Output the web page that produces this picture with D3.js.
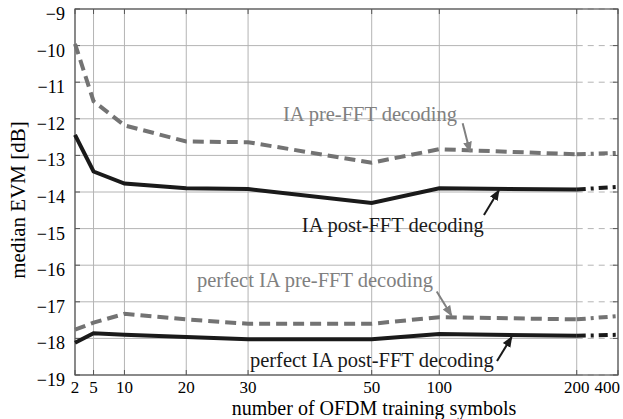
<!DOCTYPE html>
<html>
<head>
<meta charset="utf-8">
<script src="https://d3js.org/d3.v7.min.js"></script>
<style>
  body { margin: 0; background: #fff; }
  text { font-family: "Liberation Serif", "DejaVu Serif", serif; }
</style>
</head>
<body>
<script>
"use strict";

// training symbol counts (x) and median EVM values in dB
var symbols = [2, 5, 10, 20, 30, 50, 100, 200, 400];
var iaPre = [-9.95, -11.52, -12.18, -12.62, -12.64, -13.2, -12.83, -12.97, -12.93];
var iaPost = [-12.44, -13.44, -13.77, -13.9, -13.92, -14.3, -13.9, -13.93, -13.86];
var perfectPre = [-17.76, -17.57, -17.33, -17.48, -17.6, -17.6, -17.42, -17.48, -17.39];
var perfectPost = [-18.12, -17.86, -17.9, -17.96, -18.02, -18.02, -17.88, -17.93, -17.9];

var xTicks = [2, 5, 10, 20, 30, 50, 100, 200, 400];
var yTicks = [-9, -10, -11, -12, -13, -14, -15, -16, -17, -18, -19];

var margin = {top: 9, right: 5, bottom: 44, left: 75},
    width = 623 - margin.left - margin.right,
    height = 419 - margin.top - margin.bottom;

var svg = d3.select("body").append("svg")
    .attr("width", 623)
    .attr("height", 419);
var g = svg.append("g")
    .attr("transform", "translate(" + margin.left + "," + margin.top + ")");

// piecewise scale: linear up to 50, then compressed segments
var x = d3.scaleLinear()
    .domain([2, 50, 100, 200, 400])
    .range([0, 0.5464 * width, 0.6709 * width, 0.924 * width, width]);
var y = d3.scaleLinear().domain([-19, -9]).range([height, 0]);

var gridCol = "#b4b4b4";

// horizontal grid, solid up to 200 and dashed after
yTicks.forEach(function(t) {
  g.append("line")
    .attr("x1", x(2)).attr("x2", x(200))
    .attr("y1", y(t)).attr("y2", y(t))
    .attr("stroke", gridCol).attr("stroke-width", 1);
  g.append("line")
    .attr("x1", x(200)).attr("x2", x(400))
    .attr("y1", y(t)).attr("y2", y(t))
    .attr("stroke", gridCol).attr("stroke-width", 1)
    .attr("stroke-dasharray", "6,5");
});
xTicks.forEach(function(t) {
  g.append("line")
    .attr("x1", x(t)).attr("x2", x(t))
    .attr("y1", 0).attr("y2", height)
    .attr("stroke", gridCol).attr("stroke-width", 1);
});

// box and inward ticks
var axisCol = "#555";
g.append("rect")
  .attr("width", width).attr("height", height)
  .attr("fill", "none").attr("stroke", axisCol).attr("stroke-width", 1.2);

xTicks.forEach(function(t) {
  g.append("line").attr("x1", x(t)).attr("x2", x(t)).attr("y1", height).attr("y2", height - 5)
    .attr("stroke", axisCol);
  g.append("line").attr("x1", x(t)).attr("x2", x(t)).attr("y1", 0).attr("y2", 5)
    .attr("stroke", axisCol);
});
yTicks.forEach(function(t) {
  g.append("line").attr("x1", 0).attr("x2", 5).attr("y1", y(t)).attr("y2", y(t))
    .attr("stroke", axisCol);
  g.append("line").attr("x1", width).attr("x2", width - 5).attr("y1", y(t)).attr("y2", y(t))
    .attr("stroke", axisCol);
});

// tick labels
g.selectAll(".ylab").data(yTicks).enter().append("text")
  .attr("x", -10)
  .attr("y", function(d) { return y(d) + 11; })
  .attr("text-anchor", "end")
  .style("font-size", "18px")
  .text(function(d) { return "\u2212" + Math.abs(d); });

g.selectAll(".xlab").data(xTicks).enter().append("text")
  .attr("x", function(d) { return d === 400 ? x(d) + 2 : x(d); })
  .attr("y", height + 18)
  .attr("text-anchor", function(d) { return d === 400 ? "end" : "middle"; })
  .style("font-size", "17px")
  .text(function(d) { return d; });

// axis titles
g.append("text")
  .attr("x", 299)
  .attr("y", height + 40)
  .attr("text-anchor", "middle")
  .style("font-size", "20px")
  .text("number of OFDM training symbols");
g.append("text")
  .attr("transform", "translate(" + (-50) + "," + 191 + ") rotate(-90)")
  .attr("text-anchor", "middle")
  .style("font-size", "21px")
  .text("median EVM [dB]");

// series lines
var series = [
  {vals: iaPre, color: "#737373", dash: "11,6"},
  {vals: iaPost, color: "#1a1a1a", dash: null},
  {vals: perfectPre, color: "#737373", dash: "11,6"},
  {vals: perfectPost, color: "#1a1a1a", dash: null}
];
var line = d3.line().x(function(d) { return x(d[0]); }).y(function(d) { return y(d[1]); });

series.forEach(function(s) {
  var pts = symbols.map(function(v, i) { return [v, s.vals[i]]; });
  var main = pts.filter(function(p) { return p[0] <= 200; });
  var tail = pts.filter(function(p) { return p[0] >= 200; });
  g.append("path").datum(main)
    .attr("d", line).attr("fill", "none")
    .attr("stroke", s.color).attr("stroke-width", 4)
    .attr("stroke-dasharray", s.dash);
  g.append("path").datum(tail)
    .attr("d", line).attr("fill", "none")
    .attr("stroke", s.color).attr("stroke-width", 4)
    .attr("stroke-dasharray", "9,5,3,5");
});

// annotations with arrows
var defs = svg.append("defs");
["#808080", "#1a1a1a"].forEach(function(c, i) {
  defs.append("marker")
    .attr("id", "arr" + i)
    .attr("viewBox", "0 0 10 10")
    .attr("refX", 9).attr("refY", 5)
    .attr("markerWidth", 5.5).attr("markerHeight", 5.5)
    .attr("orient", "auto")
    .append("path").attr("d", "M0,1 L10,5 L0,9 z").attr("fill", c);
});

var notes = [
  {text: "IA pre-FFT decoding", tx: 35.66, ty: -12.06, from: [117, -12.12], to: [122.3, -12.9], color: "#808080", m: 0},
  {text: "IA post-FFT decoding", tx: 38.7, ty: -15.09, from: [132.5, -14.63], to: [143.4, -13.95], color: "#1a1a1a", m: 1},
  {text: "perfect IA pre-FFT decoding", tx: 21.74, ty: -16.6, from: [98.1, -16.72], to: [109, -17.38], color: "#808080", m: 0},
  {text: "perfect IA post-FFT decoding", tx: 30.3, ty: -18.78, from: [142, -18.62], to: [152.7, -17.96], color: "#1a1a1a", m: 1}
];
notes.forEach(function(n) {
  g.append("text")
    .attr("x", x(n.tx)).attr("y", y(n.ty))
    .attr("fill", n.color)
    .style("font-size", "20.5px")
    .text(n.text);
  g.append("line")
    .attr("x1", x(n.from[0])).attr("y1", y(n.from[1]))
    .attr("x2", x(n.to[0])).attr("y2", y(n.to[1]))
    .attr("stroke", n.color).attr("stroke-width", 2)
    .attr("marker-end", "url(#arr" + n.m + ")");
});
</script>
</body>
</html>
